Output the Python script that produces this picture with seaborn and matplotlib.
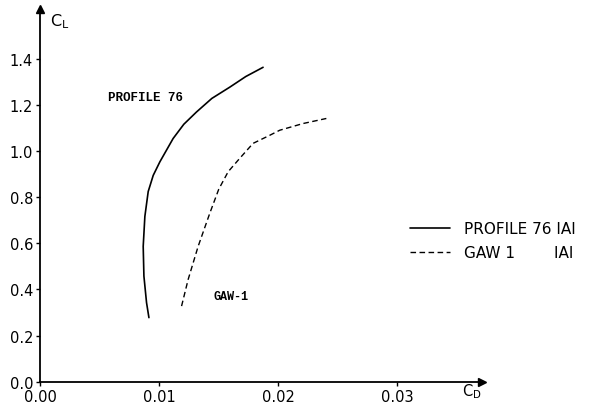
"""
Polar diagram C_L vs C_D: PROFILE 76 vs GAW-1 (IAI)
"""

import matplotlib
matplotlib.use("Agg")
import matplotlib.pyplot as plt
import seaborn as sns
import pandas as pd

# Profile 76 (solid)
p76_cd = [0.00914, 0.00894, 0.00872, 0.00866, 0.00880, 0.00908, 0.00950, 0.01006, 0.01117,
          0.01207, 0.01313, 0.01442, 0.01593, 0.01727, 0.01872]
p76_cl = [0.278, 0.343, 0.458, 0.587, 0.717, 0.825, 0.895, 0.954, 1.055,
          1.117, 1.170, 1.229, 1.278, 1.324, 1.364]

# GAW-1 (dashed)
gaw_cd = [0.01188, 0.01243, 0.01327, 0.01425, 0.01500, 0.01579, 0.01676, 0.01788, 0.01928,
          0.02012, 0.02207, 0.02403]
gaw_cl = [0.328, 0.443, 0.587, 0.731, 0.835, 0.911, 0.969, 1.034, 1.069,
          1.091, 1.120, 1.142]

x_ticks = [0.00, 0.01, 0.02, 0.03]
x_labels = ["0.00", "0.01", "0.02", "0.03"]
y_ticks = [0.0, 0.2, 0.4, 0.6, 0.8, 1.0, 1.2, 1.4]
y_labels = ["0.0", "0.2", "0.4", "0.6", "0.8", "1.0", "1.2", "1.4"]


def main():
    sns.set_style("white")
    plt.rcParams["font.family"] = ["DejaVu Sans"]
    plt.rcParams["text.color"] = "black"

    df76 = pd.DataFrame({"CD": p76_cd, "CL": p76_cl})
    dfgaw = pd.DataFrame({"CD": gaw_cd, "CL": gaw_cl})

    fig = plt.figure(figsize=(5.91, 4.06), dpi=100)
    ax = fig.add_axes([0.0677, 0.0574, 0.748, 0.918])

    sns.lineplot(data=df76, x="CD", y="CL", sort=False, estimator=None, ax=ax,
                 color="black", linewidth=1.2, label="PROFILE 76 IAI")
    sns.lineplot(data=dfgaw, x="CD", y="CL", sort=False, estimator=None, ax=ax,
                 color="black", linewidth=1.0, linestyle=(0, (4, 2.5)),
                 label="GAW 1        IAI")

    ax.set_xlim(0, 0.0371)
    ax.set_ylim(0, 1.617)
    ax.set_xticks(x_ticks)
    ax.set_xticklabels(x_labels)
    ax.set_yticks(y_ticks)
    ax.set_yticklabels(y_labels)
    ax.tick_params(axis="both", labelsize=10.5, length=3, width=1, direction="out",
                   left=True, bottom=True, colors="black", pad=2)
    ax.set_xlabel("")
    ax.set_ylabel("")

    for s in ["top", "right"]:
        ax.spines[s].set_visible(False)
    for s in ["left", "bottom"]:
        ax.spines[s].set_color("black")
        ax.spines[s].set_linewidth(1.3)

    # arrow heads at ends of axes
    ax.plot(1, 0, ">k", transform=ax.transAxes, clip_on=False, markersize=6)
    ax.plot(0, 1, "^k", transform=ax.transAxes, clip_on=False, markersize=6)

    ax.text(0.00084, 1.565, r"$\mathregular{C_L}$", fontsize=11.5,
            va="center", ha="left", clip_on=False)
    ax.text(0.0354, -0.04, r"$\mathregular{C_D}$", fontsize=10.5,
            va="center", ha="left", clip_on=False)

    ax.text(0.0057, 1.235, "PROFILE 76", family="Liberation Mono", fontweight="bold",
            fontsize=9, va="center", ha="left")
    ax.text(0.0146, 0.37, "GAW-1", family="Liberation Mono", fontweight="bold",
            fontsize=8.5, va="center", ha="left")

    leg = ax.legend(loc="center left", bbox_to_anchor=(0.806, 0.379), frameon=False,
                    fontsize=11, handlelength=2.6, handletextpad=0.9, labelspacing=0.6)
    for t in leg.get_texts():
        t.set_color("black")

    fig.savefig("out.png", dpi=100, facecolor="white")


if __name__ == "__main__":
    main()
